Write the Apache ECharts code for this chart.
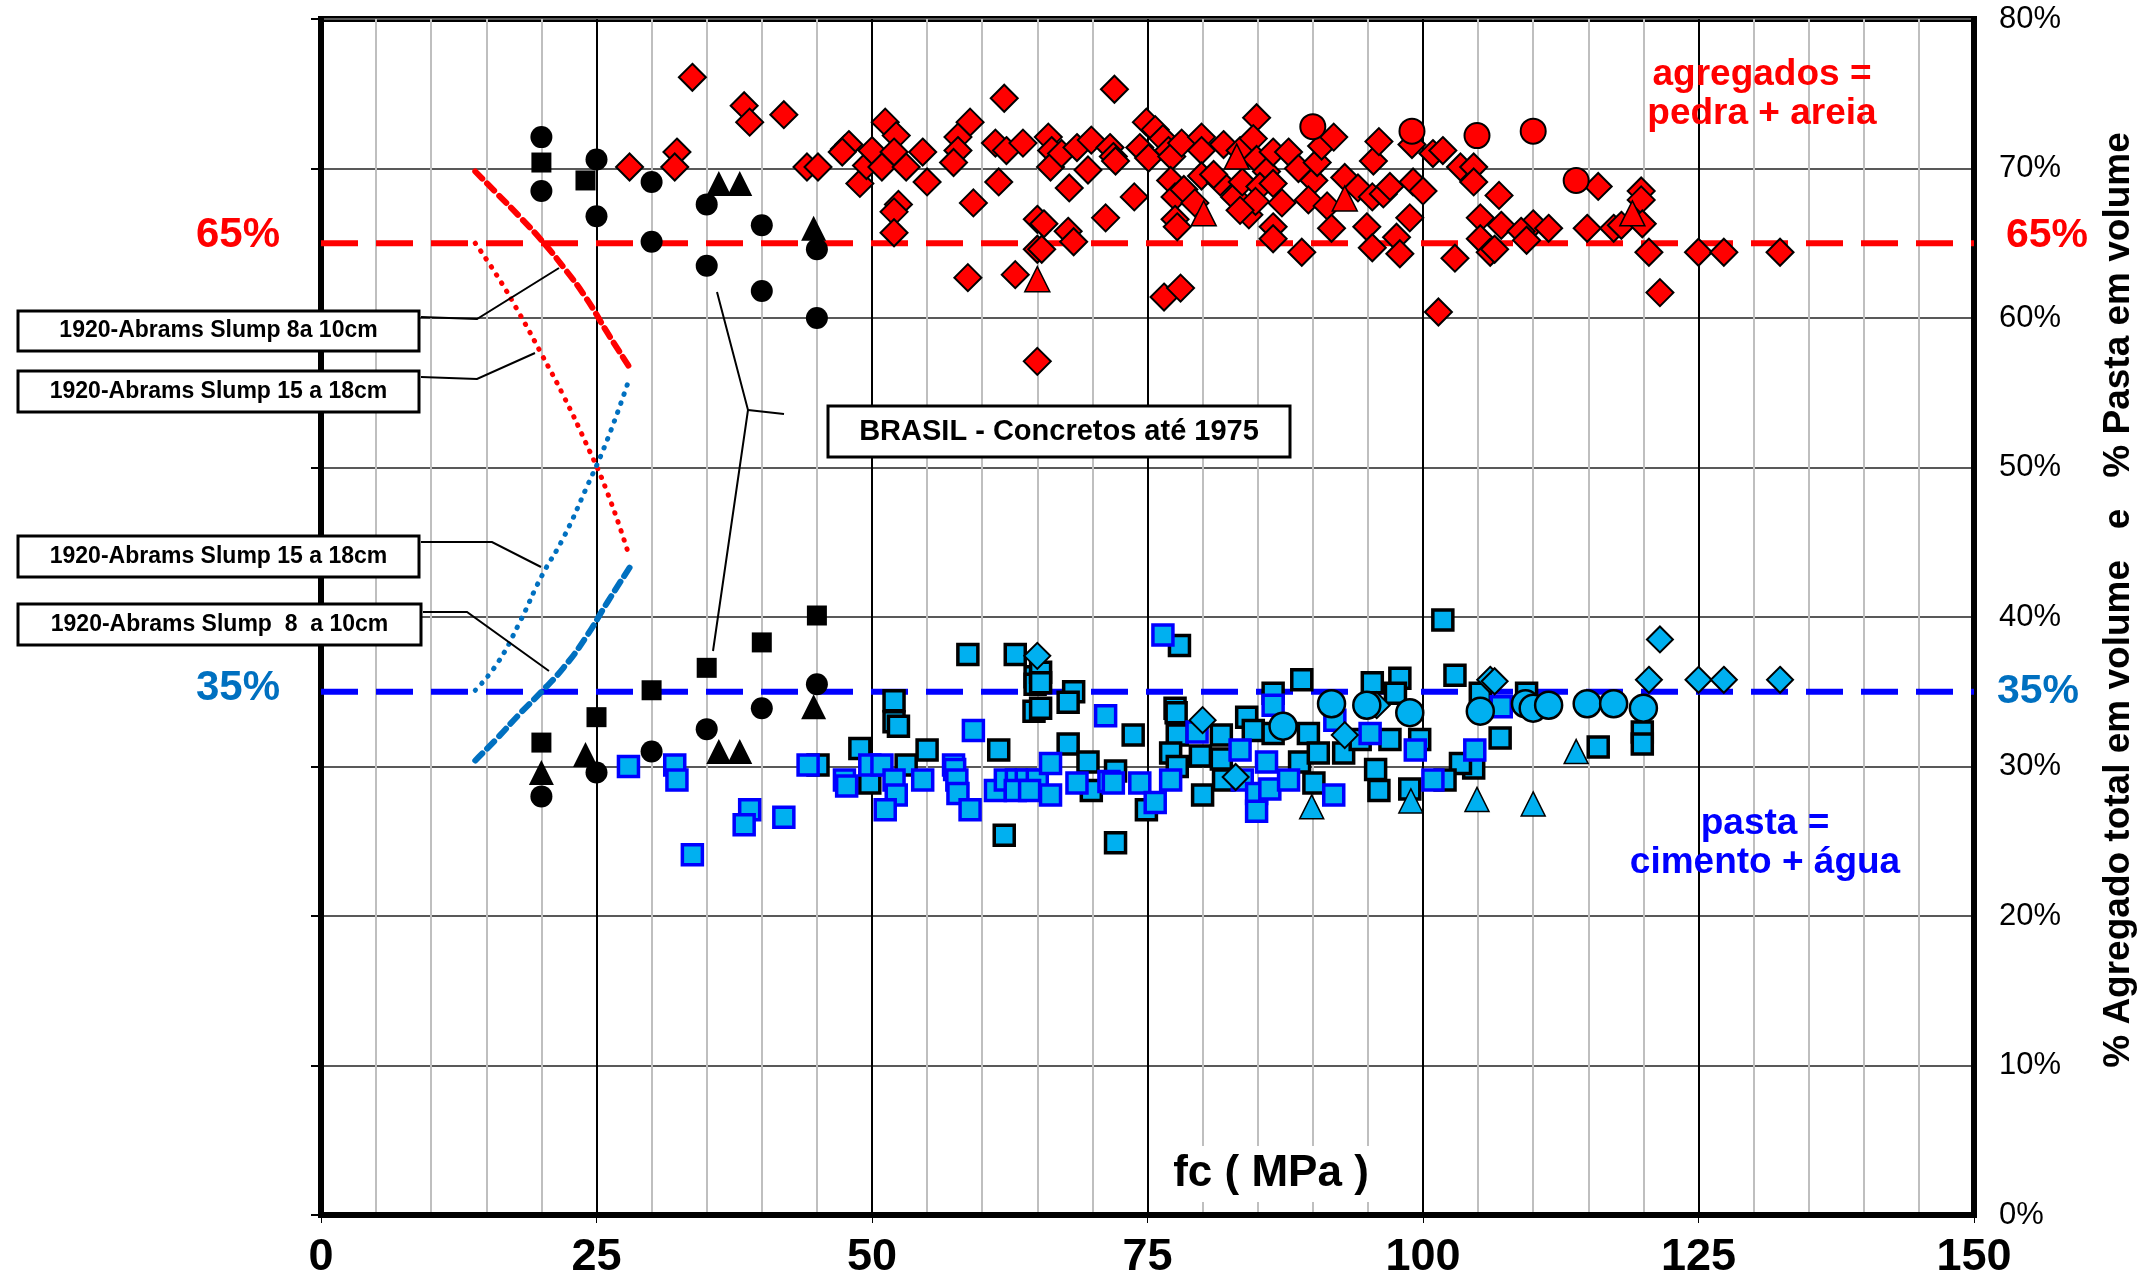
<!DOCTYPE html>
<html>
<head>
<meta charset="utf-8">
<script src="https://cdn.jsdelivr.net/npm/echarts@6/dist/echarts.min.js"></script>
<style>
html,body{margin:0;padding:0;background:#fff;}
#main{width:2145px;height:1287px;}
</style>
</head>
<body>
<div id="main"></div>
<script>
// eixo x: fc (MPa), eixo y: % em volume
var xTicks = [0, 25, 50, 75, 100, 125, 150];
var yTicks = [0, 10, 20, 30, 40, 50, 60, 70, 80];
var refLevels = [65, 35];

// agregados (vermelho)
var aggDiamonds = [[28.0,70.1],[32.3,71.1],[32.1,70.1],[33.7,76.1],[38.4,74.2],[38.9,73.1],[42.0,73.6],[44.1,70.1],[45.1,70.1],
	[47.5,71.3],[47.9,71.6],[47.3,71.1],[48.9,69.0],[49.5,70.2],[50.0,71.2],[51.2,73.1],[52.2,72.2],[52.0,71.1],[50.9,70.1],
	[53.1,70.1],[54.6,71.1],[55.0,69.1],[52.4,67.6],[52.0,67.1],[52.0,65.7],[58.9,73.1],[57.8,72.1],[57.8,71.2],[57.4,70.4],
	[59.2,67.7],[61.5,69.1],[62.0,74.7],[61.2,71.7],[62.2,71.2],[63.7,71.7],[58.7,62.7],[63.0,62.9],[65.0,66.6],[65.0,64.6],
	[65.0,57.1],[72.0,75.3],[66.0,72.1],[66.3,71.2],[66.2,70.1],[67.2,71.0],[68.6,71.4],[69.9,71.9],[69.6,69.9],[67.9,68.7],
	[71.6,71.4],[71.9,70.8],[72.1,70.5],[73.8,68.1],[71.2,66.7],[67.8,65.8],[68.3,65.1],[65.6,66.3],[65.4,64.6],[74.9,73.1],
	[75.7,72.6],[74.3,71.4],[75.1,70.7],[76.4,72.0],[76.9,71.2],[77.2,70.8],[78.1,71.7],[79.9,72.1],[79.9,71.2],[81.9,71.6],
	[77.1,69.2],[77.5,68.1],[78.3,68.6],[79.9,69.5],[79.3,67.7],[77.5,66.6],[77.7,66.1],[76.5,61.4],[78.0,62.0],[81.6,69.1],
	[81.0,69.6],[82.9,68.1],[83.6,69.1],[84.2,66.9],[84.9,73.4],[83.4,71.2],[84.6,72.0],[84.9,70.6],[85.8,69.8],[85.2,68.8],
	[86.4,69.0],[86.4,71.1],[87.8,71.1],[88.7,70.0],[87.2,67.7],[86.4,66.1],[86.4,65.3],[89.0,64.4],[84.8,67.8],[83.4,67.2],
	[90.1,69.2],[89.6,67.9],[90.4,70.4],[90.8,71.5],[91.9,72.1],[91.3,67.5],[91.7,66.0],[92.9,69.4],[94.1,68.7],[95.4,68.1],
	[95.5,70.5],[96.0,71.8],[94.9,66.1],[95.4,64.7],[96.4,68.3],[97.0,68.8],[97.6,65.4],[97.9,64.3],[98.8,66.7],[99.1,69.1],
	[100.0,68.5],[99.0,71.6],[100.9,71.0],[101.4,60.4],[101.8,71.2],[103.4,70.1],[104.6,70.1],[104.6,69.1],[106.9,68.2],
	[115.9,68.8],[105.2,66.7],[107.1,66.2],[110.0,66.3],[108.9,65.8],[109.4,65.2],[111.4,66.0],[105.2,65.3],[106.1,64.4],
	[106.5,64.6],[102.9,64.0],[114.9,66.0],[117.3,66.0],[118.0,66.2],[119.8,68.5],[119.8,67.9],[119.9,66.3],[120.5,64.4],
	[121.5,61.7],[125.0,64.4],[127.3,64.4],[132.4,64.4]];
var aggCircles = [[90.0,72.8],[99.0,72.5],[104.9,72.2],[110.0,72.5],[113.9,69.2]];
var aggTriangles = [[65.0,62.6],[80.1,67.0],[83.1,70.8],[92.9,68.0],[119.0,67.0]];

// pasta (azul)
var pastaSquaresBlack = [[45.1,30.1],[48.9,31.2],[49.8,28.9],[52.0,34.4],[52.0,33.0],[52.4,32.7],[53.1,30.1],[55.0,31.1],
	[58.7,37.5],[61.5,31.1],[63.0,37.5],[62.0,25.4],[64.8,36.0],[64.8,35.5],[64.7,33.7],[65.3,36.3],[65.3,35.6],[65.3,33.9],
	[68.3,35.0],[67.8,34.3],[67.8,31.5],[69.6,30.3],[69.9,28.4],[72.1,29.7],[73.7,32.1],[72.1,24.9],[74.9,27.1],[77.9,38.1],
	[77.5,33.9],[77.6,33.6],[77.7,32.1],[77.1,30.9],[77.7,30.0],[79.8,30.7],[80.0,28.1],[81.7,32.1],[81.7,30.5],[81.9,29.1],
	[84.0,33.3],[84.6,32.4],[86.4,34.9],[86.4,32.2],[89.0,35.8],[89.6,32.2],[88.8,30.3],[90.1,28.9],[90.5,30.9],[92.8,30.9],
	[95.4,35.6],[95.7,29.8],[96.0,28.4],[94.3,31.8],[97.0,31.8],[97.9,35.9],[97.5,34.9],[99.7,31.8],[98.8,28.5],[101.8,39.8],
	[102.9,36.1],[105.2,34.9],[109.4,34.9],[107.0,31.9],[104.6,29.9],[103.4,30.2],[102.0,29.1],[115.9,31.3],[119.9,32.3],
	[119.9,31.5]];
var pastaSquaresBlue = [[27.9,30.0],[32.1,30.1],[32.3,29.1],[38.9,27.1],[38.4,26.1],[42.0,26.6],[33.7,24.1],[44.2,30.1],
	[47.5,29.1],[47.7,28.7],[49.8,30.1],[50.9,30.1],[52.0,29.1],[52.2,28.1],[51.2,27.1],[54.6,29.1],[57.4,30.1],[57.5,29.8],
	[57.7,29.1],[57.8,28.2],[58.9,27.1],[59.2,32.4],[61.2,28.4],[62.1,29.1],[63.1,29.1],[64.0,29.1],[65.0,29.1],[63.0,28.4],
	[64.3,28.4],[66.2,30.2],[66.2,28.1],[68.6,28.9],[71.2,33.4],[71.5,29.0],[71.9,28.9],[74.3,28.9],[75.7,27.6],[76.4,38.8],
	[77.1,29.1],[79.5,32.3],[83.4,31.1],[83.6,29.1],[84.9,28.2],[84.9,27.0],[85.8,30.3],[86.1,28.5],[86.4,34.1],[87.8,29.1],
	[92.0,33.1],[91.9,28.1],[95.2,32.2],[99.3,31.1],[100.9,29.1],[104.7,31.1],[107.1,34.0]];
var pastaDiamonds = [[65.0,37.4],[80.0,33.1],[83.0,29.3],[92.9,32.1],[95.8,34.1],[106.1,35.8],[106.5,35.7],[120.5,35.8],
	[121.5,38.5],[125.0,35.8],[127.3,35.8],[132.4,35.8]];
var pastaCircles = [[87.3,32.7],[91.7,34.2],[94.9,34.1],[98.8,33.6],[105.2,33.7],[109.3,34.2],[110.0,33.9],[111.4,34.1],
	[114.9,34.2],[117.3,34.2],[120.0,33.9]];
var pastaTriangles = [[89.9,27.3],[98.9,27.7],[104.9,27.8],[110.0,27.5],[113.9,31.0]];

// BRASIL - concretos ate 1975 (preto)
var brCirclesTop = [[20.0,72.1],[20.0,68.5],[25.0,70.6],[25.0,66.8],[30.0,69.1],[30.0,65.1],[35.0,67.6],[35.0,63.5],
	[40.0,66.2],[40.0,61.8],[45.0,64.6],[45.0,60.0]];
var brSquaresTop = [[20.0,70.4],[24.0,69.2]];
var brTrianglesTop = [[36.1,69.0],[38.0,69.0],[44.7,66.0]];
var brCirclesBottom = [[20.0,28.0],[25.0,29.6],[30.0,31.0],[35.0,32.5],[40.0,33.9],[45.0,35.5]];
var brSquaresBottom = [[20.0,31.6],[25.0,33.3],[30.0,35.1],[35.0,36.6],[40.0,38.3],[45.0,40.1]];
var brTrianglesBottom = [[20.0,29.6],[24.0,30.8],[36.1,31.0],[38.0,31.0],[44.7,34.0]];

// 1920 - Abrams
var abramsX = [14, 16, 18, 20, 22, 24, 26, 28];
var abramsAgg810 = [69.8, 68.3, 66.8, 65.2, 63.4, 61.4, 59.0, 56.7];
var abramsAgg1518 = [65.0, 62.8, 60.3, 57.6, 54.8, 51.7, 48.3, 44.0];
var abramsPasta1518 = [35.1, 36.9, 39.6, 42.7, 45.3, 48.5, 51.9, 56.0];
var abramsPasta810 = [30.4, 31.9, 33.5, 35.0, 36.6, 38.6, 41.0, 43.3];

var FONT = "'Liberation Sans', Arial, Helvetica, sans-serif";
var myChart;

window.onload = function(){
	myChart = echarts.init(document.getElementById('main'), null, {renderer:'canvas'});
	myChart.setOption(getOption(), true);
};

function pairs(xs, ys) {
	var out = [];
	for (var i = 0; i < xs.length; i++) out.push([xs[i], ys[i]]);
	return out;
}

function scatter(name, data, symbol, size, fill, border, bw, z) {
	return {
		name: name, type: 'scatter', data: data, symbol: symbol, symbolSize: size, z: z || 3,
		itemStyle: {color: fill, borderColor: border, borderWidth: bw, opacity: 1},
		emphasis: {disabled: true}
	};
}

function curve(name, ys, color, dash, width) {
	return {
		name: name, type: 'line', data: pairs(abramsX, ys), smooth: true, symbol: 'none', z: 4,
		lineStyle: {color: color, width: width, type: dash, cap: 'round'}
	};
}

function refLine(level, color) {
	return {
		type: 'line', data: [[xTicks[0], level], [xTicks[xTicks.length - 1], level]], symbol: 'none', z: 2,
		lineStyle: {color: color, width: 6, type: [37, 18]}
	};
}

function txt(x, y, text, font, fill, extra) {
	var el = {type: 'text', x: x, y: y, z: 100,
		style: {text: text, font: font, fill: fill, align: 'center', verticalAlign: 'middle'}};
	if (extra) for (var k in extra) el[k] = extra[k];
	return el;
}

function box(x, y, w, h, label) {
	return [
		{type: 'rect', z: 100, shape: {x: x, y: y, width: w, height: h}, style: {fill: '#fff', stroke: '#000', lineWidth: 3}},
		{type: 'text', z: 101, x: x + w / 2, y: y + h / 2,
			style: {text: label, font: 'bold 23px ' + FONT, fill: '#000', align: 'center', verticalAlign: 'middle'}}
	];
}

function leader(points) {
	return {type: 'polyline', z: 99, shape: {points: points}, style: {stroke: '#000', lineWidth: 2, fill: null}};
}

function getOption() {
	var graphic = [];
	graphic = graphic.concat(box(18, 311, 401, 40, '1920-Abrams Slump 8a 10cm'));
	graphic = graphic.concat(box(18, 371, 401, 41, '1920-Abrams Slump 15 a 18cm'));
	graphic = graphic.concat(box(18, 536, 401, 41, '1920-Abrams Slump 15 a 18cm'));
	graphic = graphic.concat(box(18, 604, 403, 41, '1920-Abrams Slump  8  a 10cm'));
	graphic.push(leader([[421, 317], [477, 319], [559, 268]]));
	graphic.push(leader([[421, 377], [477, 379], [535, 353]]));
	graphic.push(leader([[421, 542], [492, 542], [541, 567]]));
	graphic.push(leader([[423, 612], [467, 612], [549, 671]]));
	graphic.push(leader([[717, 292], [748, 410], [713, 651]]));
	graphic.push(leader([[748, 410], [784, 414]]));
	graphic.push({type: 'rect', z: 100, shape: {x: 828, y: 406, width: 462, height: 51},
		style: {fill: '#fff', stroke: '#000', lineWidth: 3}});
	graphic.push(txt(1059, 432, 'BRASIL - Concretos até 1975', 'bold 29px ' + FONT, '#000'));
	graphic.push(txt(238, 235, '65%', 'bold 42px ' + FONT, '#FF0000'));
	graphic.push(txt(238, 688, '35%', 'bold 42px ' + FONT, '#0070C0'));
	graphic.push(txt(2047, 236, '65%', 'bold 41px ' + FONT, '#FF0000'));
	graphic.push(txt(2038, 692, '35%', 'bold 41px ' + FONT, '#0070C0'));

	var agg = txt(1762, 94, 'agregados =\npedra + areia', 'bold 37px ' + FONT, '#FF0000');
	agg.style.lineHeight = 39;
	graphic.push(agg);
	var pasta = txt(1765, 843, 'pasta =\ncimento + água', 'bold 37px ' + FONT, '#0000FF');
	pasta.style.lineHeight = 39;
	graphic.push(pasta);

	var fc = txt(1271, 1174, 'fc ( MPa )', 'bold 44px ' + FONT, '#000');
	fc.style.backgroundColor = '#fff';
	fc.style.padding = [6, 10];
	graphic.push(fc);

	graphic.push(txt(2119, 600, '% Agregado total em volume   e   % Pasta em volume', 'bold 37px ' + FONT, '#000',
		{rotation: Math.PI / 2}));

	var series = [
		refLine(refLevels[0], '#FF0000'),
		refLine(refLevels[1], '#0000FF'),
		curve('Abrams 8a10 agregado', abramsAgg810, '#FF0000', [10, 7], 6),
		curve('Abrams 15a18 agregado', abramsAgg1518, '#FF0000', [0.5, 9], 5),
		curve('Abrams 15a18 pasta', abramsPasta1518, '#0070C0', [0.5, 9], 5),
		curve('Abrams 8a10 pasta', abramsPasta810, '#0070C0', [10, 7], 6),
		scatter('BRASIL', brCirclesTop, 'circle', 22, '#000', '#000', 0),
		scatter('BRASIL', brSquaresTop, 'rect', 20, '#000', '#000', 0),
		scatter('BRASIL', brTrianglesTop, 'triangle', 25, '#000', '#000', 0),
		scatter('BRASIL', brCirclesBottom, 'circle', 22, '#000', '#000', 0),
		scatter('BRASIL', brSquaresBottom, 'rect', 20, '#000', '#000', 0),
		scatter('BRASIL', brTrianglesBottom, 'triangle', 25, '#000', '#000', 0),
		scatter('agregado', aggDiamonds, 'diamond', 27, '#FF0000', '#000', 2),
		scatter('agregado', aggTriangles, 'triangle', 25, '#FF0000', '#000', 1.5),
		scatter('agregado', aggCircles, 'circle', 25, '#FF0000', '#000', 2),
		scatter('pasta', pastaSquaresBlack, 'rect', 20, '#00B0F0', '#000', 3.5),
		scatter('pasta', pastaSquaresBlue, 'rect', 20, '#00B0F0', '#0000FF', 3.5),
		scatter('pasta', pastaDiamonds, 'diamond', 26, '#00B0F0', '#000', 2),
		scatter('pasta', pastaTriangles, 'triangle', 24, '#00B0F0', '#000', 1.5),
		scatter('pasta', pastaCircles, 'circle', 27, '#00B0F0', '#000', 2.5)
	];

	var option = {
		backgroundColor: '#fff',
		animation: false,
		textStyle: {fontFamily: FONT},
		grid: {
			left: 321, right: 171, top: 19, bottom: 72,
			show: true, borderColor: '#000', borderWidth: 6, backgroundColor: 'transparent'
		},
		xAxis: [{
			type: 'value', min: xTicks[0], max: xTicks[xTicks.length - 1], interval: 25,
			axisLine: {show: true, onZero: false, lineStyle: {color: '#000', width: 6}},
			axisTick: {show: true, length: 8, lineStyle: {color: '#000', width: 1}},
			axisLabel: {fontSize: 45, fontWeight: 'bold', color: '#000', margin: 20, fontFamily: FONT},
			splitLine: {show: true, lineStyle: {color: '#000', width: 2}},
			minorTick: {show: false, splitNumber: 5},
			minorSplitLine: {show: true, lineStyle: {color: '#BFBFBF', width: 2}}
		}],
		yAxis: [{
			type: 'value', position: 'left', min: yTicks[0], max: yTicks[yTicks.length - 1], interval: 10,
			axisLine: {show: true, lineStyle: {color: '#000', width: 6}},
			axisTick: {show: true, length: 10, lineStyle: {color: '#000', width: 2}},
			axisLabel: {show: false},
			splitLine: {show: true, lineStyle: {color: '#595959', width: 2}}
		}, {
			type: 'value', position: 'right', min: yTicks[0], max: yTicks[yTicks.length - 1], interval: 10,
			axisLine: {show: true, lineStyle: {color: '#000', width: 6}},
			axisTick: {show: false},
			axisLabel: {show: true, formatter: '{value}%', fontSize: 31, color: '#000', margin: 25, fontFamily: FONT},
			splitLine: {show: false}
		}],
		series: series,
		graphic: graphic
	};
	return option;
}
</script>
</body>
</html>
